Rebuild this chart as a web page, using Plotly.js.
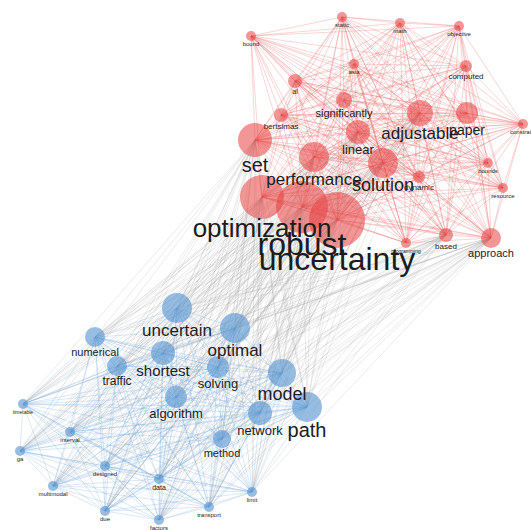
<!DOCTYPE html>
<html><head><meta charset="utf-8">
<script src="https://cdn.plot.ly/plotly-3.0.1.min.js"></script>
<style>html,body{margin:0;padding:0;background:#fff;}#chart{width:531px;height:530px;}</style>
</head><body><div id="chart"></div>
<script>
// Red cluster (robust optimization terms)
const redTerms = ["robust","uncertainty","optimization","set","performance","solution","linear","adjustable","paper","significantly","bertsimas","al","asia","bound","static","math","objective","computed","constraint","bounds","dynamic","resource","programming","based","approach"];
const redX = [302,337,262,255,314,383,358,420,467,344,281,295,354,251,342,400,459,466,523,488,419,503,406,446,491];
const redY = [207,220,197,140,157,163,132,113,113,100,115,81,64,36,17,23,26,66,124,163,177,188,243,235,238];
const redWeight = [26,28,22,17,15,15,12,13,11,8,7,7,5,5,5,5,5,6,5,5,6,5,5,7,10];
const redLabelSize = [32,32,26,20,17,18,13,17,14,11,8,7,6,6,6,6,6,8,6,6,8,6,5,8,11];

// Blue cluster (shortest path terms)
const blueTerms = ["uncertain","optimal","numerical","shortest","traffic","solving","model","path","network","algorithm","method","timetable","interval","ga","designed","data","multimodal","limit","due","transport","factors"];
const blueX = [177,235,95,163,117,218,282,307,260,176,222,23,70,20,105,159,53,252,105,209,159];
const blueY = [308,328,337,353,366,367,373,407,413,397,439,404,432,451,466,479,486,492,511,507,520];
const blueWeight = [15,15,10,12,10,11,14,15,12,11,9,5,5,5,5,5,5,5,5,5,5];
const blueLabelSize = [17,17,11,15,12,13,18,20,13,13,11,5,6,6,6,7,6,6,6,6,6];

// Red terms that carry the links between the two clusters
const bridgeTerms = ["robust","uncertainty","optimization","set","performance","solution","linear","adjustable","based","approach"];

function clusterEdges(xs, ys) {
  const ex = [], ey = [];
  for (let i = 0; i < xs.length; i++)
    for (let j = i + 1; j < xs.length; j++) {
      ex.push(xs[i], xs[j], null); ey.push(ys[i], ys[j], null);
    }
  return {ex, ey};
}
const redE = clusterEdges(redX, redY);
const blueE = clusterEdges(blueX, blueY);
const grayX = [], grayY = [];
bridgeTerms.forEach(t => {
  const k = redTerms.indexOf(t);
  for (let b = 0; b < blueTerms.length; b++) {
    grayX.push(redX[k], blueX[b], null); grayY.push(redY[k], blueY[b], null);
  }
});

function labelY(ys, ws, fs) { return ys.map((y, i) => y + ws[i] + 0.4 * fs[i] + 1.5); }

const font = "Liberation Sans, Arial, sans-serif";
const traces = [
  {x: grayX, y: grayY, mode: "lines", line: {color: "rgba(165,165,165,0.28)", width: 0.8}, hoverinfo: "skip"},
  {x: blueE.ex, y: blueE.ey, mode: "lines", line: {color: "rgba(110,165,220,0.32)", width: 0.8}, hoverinfo: "skip"},
  {x: redE.ex, y: redE.ey, mode: "lines", line: {color: "rgba(230,90,90,0.32)", width: 0.8}, hoverinfo: "skip"},
  {x: blueX, y: blueY, mode: "markers", marker: {size: blueWeight.map(w => 2 * w), color: "rgba(80,146,206,0.85)", line: {width: 0}}},
  {x: redX, y: redY, mode: "markers", marker: {size: redWeight.map(w => 2 * w), color: "rgba(232,62,62,0.78)", line: {width: 0}}},
  {x: blueX, y: labelY(blueY, blueWeight, blueLabelSize), mode: "text", text: blueTerms, textposition: "middle center",
   textfont: {family: font, size: blueLabelSize, color: "#1c1c1c"}, cliponaxis: true},
  {x: redX, y: labelY(redY, redWeight, redLabelSize), mode: "text", text: redTerms, textposition: "middle center",
   textfont: {family: font, size: redLabelSize, color: "#1c1c1c"}, cliponaxis: true}
];
const layout = {
  width: 531, height: 530, margin: {l: 0, r: 0, t: 0, b: 0},
  paper_bgcolor: "#fff", plot_bgcolor: "#fff", showlegend: false, hovermode: false,
  xaxis: {range: [0, 531], visible: false, fixedrange: true},
  yaxis: {range: [530, 0], visible: false, fixedrange: true}
};
Plotly.newPlot("chart", traces, layout, {staticPlot: true, displayModeBar: false});
</script></body></html>
